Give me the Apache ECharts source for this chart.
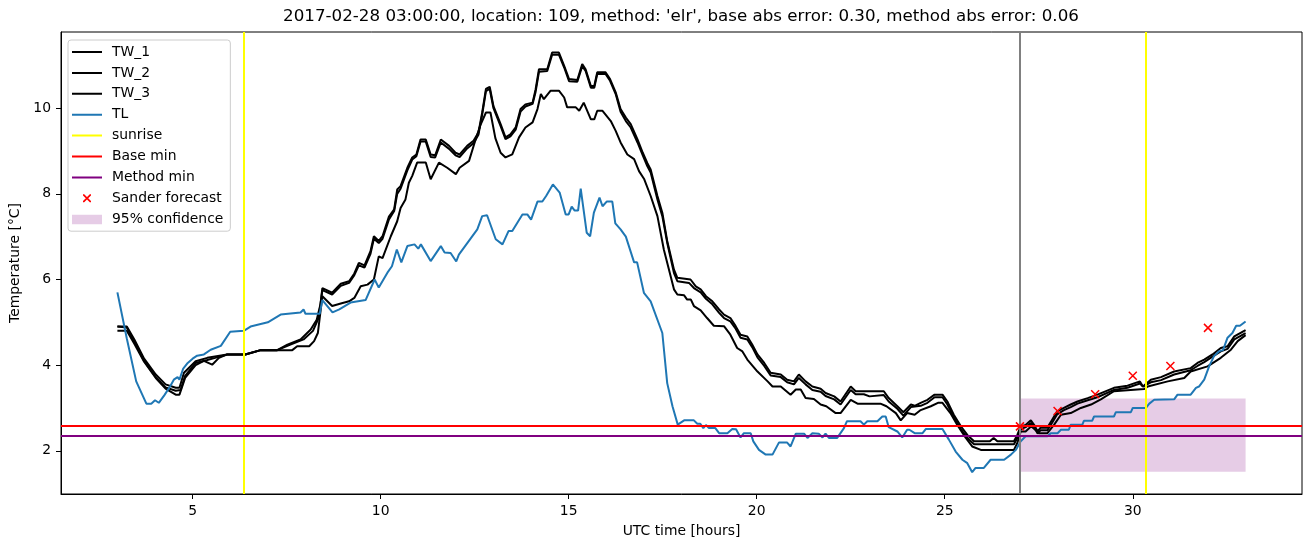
<!DOCTYPE html>
<html>
<head>
<meta charset="utf-8">
<script src="https://cdn.jsdelivr.net/npm/echarts@6/dist/echarts.min.js"></script>
<style>
html,body{margin:0;padding:0;background:#fff;}
#chart{width:1310px;height:547px;}
</style>
</head>
<body>
<div id="chart"></div>
<script>
const titleText = "2017-02-28 03:00:00, location: 109, method: 'elr', base abs error: 0.30, method abs error: 0.06";
const xTicks = [5, 10, 15, 20, 25, 30];
const yTicks = [2, 4, 6, 8, 10];

const TW_1 = [[3.0,4.9],[3.25,4.9],[3.45,4.6],[3.71,4.15],[4.02,3.78],[4.28,3.55],[4.55,3.47],[4.65,3.47],[4.77,3.82],[5.08,4.09],[5.39,4.17],[5.92,4.25],[6.4,4.25],[6.81,4.35],[7.25,4.35],[7.52,4.48],[7.87,4.6],[8.14,4.83],[8.3,5.06],[8.4,5.42],[8.45,5.8],[8.71,5.69],[8.94,5.9],[9.16,5.96],[9.3,6.14],[9.42,6.39],[9.57,6.33],[9.73,6.66],[9.82,7.01],[9.95,6.9],[10.05,7.01],[10.22,7.47],[10.36,7.64],[10.44,8.1],[10.53,8.18],[10.71,8.61],[10.84,8.85],[10.95,8.92],[11.06,9.27],[11.2,9.27],[11.33,8.92],[11.45,8.9],[11.6,9.27],[11.82,9.12],[11.99,8.96],[12.1,8.92],[12.3,9.12],[12.47,9.24],[12.6,9.43],[12.7,9.9],[12.8,10.45],[12.9,10.5],[13.0,10.05],[13.19,9.63],[13.32,9.32],[13.45,9.39],[13.59,9.55],[13.72,9.98],[13.85,10.09],[14.04,10.13],[14.12,10.44],[14.21,10.91],[14.43,10.91],[14.56,11.3],[14.74,11.3],[14.88,10.99],[15.01,10.68],[15.23,10.66],[15.36,11.03],[15.45,10.91],[15.59,10.52],[15.68,10.52],[15.76,10.84],[15.98,10.84],[16.1,10.68],[16.25,10.37],[16.38,9.98],[16.52,9.78],[16.65,9.63],[16.83,9.27],[16.97,8.96],[17.09,8.72],[17.18,8.57],[17.36,7.95],[17.49,7.56],[17.62,6.9],[17.8,6.23],[17.89,6.04],[18.24,6.0],[18.38,5.84],[18.51,5.77],[18.65,5.61],[18.82,5.49],[19.0,5.3],[19.13,5.18],[19.3,5.1],[19.44,4.91],[19.57,4.71],[19.75,4.67],[19.88,4.48],[20.02,4.25],[20.2,4.05],[20.37,3.82],[20.64,3.78],[20.81,3.66],[20.99,3.62],[21.12,3.78],[21.3,3.62],[21.48,3.5],[21.7,3.45],[21.83,3.35],[22.06,3.27],[22.23,3.15],[22.5,3.5],[22.63,3.39],[22.85,3.39],[23.0,3.39],[23.38,3.39],[23.51,3.23],[23.74,3.04],[23.9,2.9],[24.1,3.08],[24.2,3.05],[24.36,3.12],[24.54,3.19],[24.73,3.31],[24.94,3.31],[25.07,3.15],[25.24,2.84],[25.43,2.57],[25.6,2.37],[25.78,2.22],[26.2,2.22],[26.3,2.3],[26.4,2.22],[26.84,2.22],[26.93,2.37],[27.02,2.57],[27.15,2.6],[27.29,2.71],[27.38,2.6],[27.47,2.45],[27.55,2.54],[27.73,2.54],[27.86,2.73],[27.99,2.92],[28.17,3.0],[28.35,3.08],[28.53,3.15],[28.8,3.23],[29.06,3.31],[29.5,3.47],[29.86,3.52],[30.19,3.62],[30.27,3.5],[30.48,3.66],[30.75,3.72],[31.1,3.85],[31.54,3.93],[31.72,4.05],[31.9,4.13],[32.12,4.25],[32.34,4.4],[32.52,4.44],[32.7,4.67],[33.0,4.82]];

const TW_2 = [[3.0,4.9],[3.25,4.88],[3.45,4.55],[3.71,4.1],[4.02,3.72],[4.28,3.48],[4.55,3.4],[4.68,3.42],[4.8,3.75],[5.08,4.05],[5.39,4.12],[5.6,4.17],[5.92,4.25],[6.4,4.25],[6.81,4.35],[7.25,4.35],[7.6,4.48],[7.95,4.6],[8.2,4.8],[8.35,5.1],[8.45,5.75],[8.71,5.65],[8.94,5.85],[9.16,5.92],[9.3,6.1],[9.42,6.33],[9.57,6.28],[9.73,6.6],[9.82,6.95],[9.95,6.85],[10.05,6.95],[10.22,7.4],[10.36,7.6],[10.44,8.0],[10.53,8.12],[10.71,8.55],[10.84,8.8],[10.95,8.88],[11.06,9.22],[11.2,9.22],[11.33,8.86],[11.45,8.85],[11.6,9.2],[11.82,9.05],[11.99,8.9],[12.1,8.86],[12.3,9.06],[12.47,9.18],[12.6,9.38],[12.7,9.85],[12.8,10.4],[12.9,10.45],[13.0,10.0],[13.19,9.58],[13.32,9.28],[13.45,9.34],[13.59,9.5],[13.72,9.92],[13.85,10.04],[14.04,10.1],[14.12,10.38],[14.21,10.85],[14.43,10.87],[14.56,11.25],[14.74,11.25],[14.88,10.95],[15.01,10.63],[15.23,10.62],[15.36,10.98],[15.45,10.87],[15.59,10.48],[15.68,10.48],[15.76,10.8],[15.98,10.8],[16.1,10.64],[16.25,10.33],[16.38,9.92],[16.52,9.7],[16.65,9.55],[16.83,9.2],[16.97,8.9],[17.09,8.65],[17.18,8.5],[17.36,7.87],[17.49,7.48],[17.62,6.86],[17.8,6.15],[17.89,5.96],[18.2,5.92],[18.33,5.8],[18.51,5.7],[18.65,5.55],[18.82,5.42],[19.0,5.22],[19.13,5.1],[19.3,5.02],[19.44,4.85],[19.57,4.64],[19.75,4.6],[19.88,4.42],[20.02,4.18],[20.2,3.98],[20.37,3.76],[20.64,3.72],[20.81,3.6],[20.99,3.55],[21.12,3.7],[21.3,3.55],[21.48,3.42],[21.7,3.38],[21.83,3.28],[22.06,3.2],[22.23,3.08],[22.5,3.42],[22.63,3.32],[22.85,3.32],[23.0,3.27],[23.38,3.3],[23.51,3.15],[23.74,2.98],[23.9,2.82],[24.1,3.02],[24.36,3.05],[24.54,3.12],[24.73,3.25],[24.94,3.25],[25.07,3.08],[25.24,2.78],[25.43,2.5],[25.6,2.3],[25.78,2.15],[26.84,2.15],[26.93,2.3],[27.02,2.5],[27.15,2.55],[27.29,2.65],[27.38,2.55],[27.47,2.4],[27.55,2.48],[27.73,2.48],[27.86,2.66],[27.99,2.85],[28.17,2.95],[28.35,3.02],[28.53,3.1],[28.8,3.18],[29.06,3.25],[29.5,3.42],[29.86,3.47],[30.19,3.57],[30.27,3.5],[30.48,3.6],[30.75,3.65],[31.1,3.78],[31.54,3.88],[31.72,3.98],[31.9,4.07],[32.12,4.2],[32.34,4.32],[32.52,4.38],[32.7,4.6],[33.0,4.75]];

const TW_3 = [[3.0,4.8],[3.25,4.8],[3.45,4.5],[3.71,4.08],[4.02,3.7],[4.28,3.45],[4.55,3.31],[4.65,3.31],[4.8,3.7],[5.08,4.0],[5.3,4.1],[5.52,4.01],[5.7,4.17],[5.92,4.25],[6.4,4.25],[6.81,4.35],[7.65,4.35],[7.78,4.44],[8.1,4.44],[8.23,4.56],[8.33,4.75],[8.45,5.61],[8.71,5.38],[8.94,5.44],[9.16,5.49],[9.3,5.57],[9.47,5.84],[9.65,5.88],[9.82,6.0],[9.95,6.54],[10.05,6.5],[10.27,7.01],[10.44,7.36],[10.53,7.67],[10.66,7.87],[10.75,8.26],[10.84,8.42],[10.97,8.73],[11.2,8.73],[11.33,8.34],[11.55,8.73],[11.77,8.61],[12.0,8.46],[12.1,8.61],[12.35,8.77],[12.5,9.2],[12.65,9.6],[12.8,9.9],[12.92,9.9],[13.05,9.3],[13.19,8.96],[13.32,8.85],[13.5,8.92],[13.68,9.32],[13.85,9.55],[14.04,9.67],[14.17,9.98],[14.26,10.33],[14.34,10.21],[14.52,10.41],[14.74,10.41],[14.88,10.25],[14.96,10.02],[15.19,10.02],[15.28,9.94],[15.4,10.13],[15.59,9.74],[15.68,9.74],[15.76,9.94],[15.9,9.94],[16.12,9.7],[16.25,9.47],[16.38,9.2],[16.56,8.92],[16.74,8.81],[16.87,8.53],[17.01,8.34],[17.18,7.95],[17.36,7.48],[17.53,6.7],[17.8,5.77],[17.89,5.65],[18.07,5.63],[18.15,5.53],[18.25,5.53],[18.33,5.38],[18.51,5.28],[18.68,5.1],[18.86,4.92],[19.13,4.91],[19.3,4.71],[19.48,4.4],[19.62,4.32],[19.75,4.13],[20.02,3.85],[20.29,3.62],[20.42,3.5],[20.64,3.5],[20.9,3.31],[21.04,3.43],[21.17,3.43],[21.3,3.23],[21.52,3.21],[21.7,3.08],[21.85,3.04],[22.1,2.88],[22.23,2.88],[22.5,3.19],[22.68,3.1],[23.29,3.1],[23.45,3.04],[23.7,2.88],[23.83,2.71],[24.0,2.88],[24.2,2.84],[24.36,2.95],[24.63,3.04],[24.82,3.12],[24.94,3.12],[25.15,2.88],[25.33,2.61],[25.56,2.3],[25.73,2.1],[25.96,2.02],[26.84,2.02],[26.93,2.18],[27.02,2.45],[27.15,2.45],[27.3,2.57],[27.51,2.41],[27.73,2.41],[27.91,2.61],[28.09,2.84],[28.35,2.88],[28.62,3.0],[28.89,3.08],[29.15,3.2],[29.5,3.39],[30.3,3.44],[30.4,3.5],[30.93,3.62],[31.37,3.7],[31.54,3.85],[31.99,3.97],[32.34,4.17],[32.61,4.36],[32.79,4.56],[33.0,4.7]];

const TL = [[3.0,5.70],[3.25,4.62],[3.5,3.62],[3.77,3.10],[3.9,3.10],[4.0,3.18],[4.1,3.12],[4.25,3.30],[4.4,3.5],[4.5,3.66],[4.6,3.72],[4.65,3.66],[4.75,3.92],[4.87,4.05],[5.0,4.15],[5.12,4.22],[5.3,4.25],[5.48,4.36],[5.75,4.45],[6.0,4.78],[6.36,4.80],[6.54,4.90],[7.0,5.0],[7.34,5.18],[7.87,5.23],[7.95,5.3],[8.0,5.2],[8.38,5.2],[8.45,5.52],[8.72,5.23],[8.9,5.3],[9.2,5.46],[9.6,5.52],[9.84,6.0],[9.95,5.81],[10.18,6.16],[10.3,6.31],[10.43,6.7],[10.55,6.4],[10.71,6.78],[10.9,6.82],[11.0,6.72],[11.07,6.82],[11.33,6.43],[11.6,6.78],[11.7,6.63],[11.86,6.62],[12.01,6.42],[12.08,6.58],[12.57,7.17],[12.7,7.48],[12.83,7.5],[13.06,6.94],[13.24,6.82],[13.4,7.13],[13.5,7.13],[13.77,7.52],[13.9,7.52],[14.0,7.4],[14.17,7.82],[14.3,7.82],[14.4,7.95],[14.58,8.22],[14.76,8.03],[14.92,7.52],[15.0,7.52],[15.08,7.7],[15.16,7.61],[15.25,7.61],[15.32,8.12],[15.48,7.09],[15.57,7.01],[15.67,7.56],[15.82,7.91],[15.9,7.71],[16.01,7.82],[16.16,7.82],[16.24,7.31],[16.38,7.17],[16.52,7.0],[16.74,6.4],[16.82,6.4],[17.0,5.69],[17.18,5.49],[17.49,4.75],[17.62,3.58],[17.76,3.04],[17.9,2.61],[18.07,2.71],[18.33,2.71],[18.42,2.63],[18.5,2.63],[18.58,2.53],[18.65,2.6],[18.73,2.53],[18.9,2.53],[19.0,2.41],[19.22,2.41],[19.35,2.51],[19.45,2.5],[19.57,2.31],[19.66,2.41],[19.84,2.41],[19.91,2.22],[20.06,2.02],[20.24,1.91],[20.42,1.91],[20.59,2.19],[20.81,2.19],[20.9,2.1],[21.04,2.4],[21.26,2.4],[21.35,2.3],[21.48,2.41],[21.65,2.4],[21.75,2.31],[21.83,2.4],[21.92,2.3],[22.14,2.3],[22.32,2.53],[22.4,2.69],[22.76,2.69],[22.85,2.61],[22.94,2.69],[23.21,2.69],[23.34,2.8],[23.43,2.8],[23.51,2.55],[23.74,2.45],[23.87,2.31],[24.0,2.49],[24.06,2.49],[24.2,2.41],[24.41,2.41],[24.5,2.51],[24.94,2.51],[25.11,2.26],[25.29,1.98],[25.47,1.79],[25.6,1.71],[25.73,1.5],[25.82,1.6],[26.04,1.6],[26.22,1.79],[26.58,1.79],[26.76,1.91],[26.89,2.02],[27.02,2.22],[27.15,2.34],[27.73,2.34],[27.82,2.41],[28.0,2.41],[28.09,2.49],[28.3,2.49],[28.35,2.61],[28.66,2.61],[28.7,2.7],[28.92,2.7],[28.97,2.8],[29.5,2.8],[29.55,2.9],[29.95,2.9],[30.0,3.0],[30.35,3.0],[30.44,3.1],[30.57,3.19],[31.1,3.2],[31.19,3.31],[31.54,3.31],[31.68,3.47],[31.76,3.5],[31.9,3.66],[32.03,3.97],[32.16,4.21],[32.29,4.32],[32.4,4.35],[32.52,4.64],[32.65,4.75],[32.75,4.92],[32.85,4.92],[33.0,5.02]];

const sunriseHours = [6.36, 30.35];
const forecastStartHour = 27;
const baseMin = 2.585;
const methodMin = 2.36;
const sanderHours = [27, 28, 29, 30, 31, 32];
const sanderValues = [2.57, 2.93, 3.32, 3.75, 3.98, 4.87];
const confStart = 27, confEnd = 33, confLow = 1.51, confHigh = 3.22;

const FONT = 'DejaVu Sans';
const pad = 'M0,0L0.01,0L0,0.01ZM35,14L34.99,14L35,13.99Z';
const lineIcon = 'path://' + pad + 'M0,6H30V8H0Z';
const crossIcon = 'path://' + pad + 'M11,3L12.2,3L19,9.8L19,11L17.8,11L11,4.2ZM19,3L19,4.2L12.2,11L11,11L11,9.8L17.8,3Z';
const rectIcon = 'path://' + pad + 'M0,2.5H30V12H0Z';

const chart = echarts.init(document.getElementById('chart'), null, {renderer: 'canvas'});

function ml(color, data) {
  return {
    silent: true, symbol: ['none', 'none'], label: {show: false},
    lineStyle: {color: color, width: 2, type: 'solid'},
    emphasis: {disabled: true}, animation: false,
    data: data
  };
}

const option = {
  animation: false,
  backgroundColor: '#ffffff',
  title: {
    text: titleText, left: 681, top: 8, padding: 0, textAlign: 'center',
    textStyle: {fontFamily: FONT, fontSize: 16.7, fontWeight: 'normal', color: '#000'}
  },
  grid: {left: 61, top: 32, right: 8, bottom: 53, show: true, borderColor: '#000', borderWidth: 1, backgroundColor: 'transparent'},
  legend: {
    orient: 'vertical', left: 68, top: 40,
    padding: [5, 7, 5, 4],
    itemWidth: 35, itemHeight: 14, itemGap: 6.9,
    backgroundColor: 'rgba(255,255,255,0.8)', borderColor: '#cccccc', borderWidth: 1, borderRadius: 3,
    textStyle: {fontFamily: FONT, fontSize: 13.9, color: '#000', lineHeight: 14, padding: 0},
    itemStyle: {borderWidth: 0},
    selectedMode: false,
    data: [
      {name: 'TW_1', icon: lineIcon},
      {name: 'TW_2', icon: lineIcon},
      {name: 'TW_3', icon: lineIcon},
      {name: 'TL', icon: lineIcon},
      {name: 'sunrise', icon: lineIcon},
      {name: 'Base min', icon: lineIcon},
      {name: 'Method min', icon: lineIcon},
      {name: 'Sander forecast', icon: crossIcon, itemStyle: {color: '#ff0000', borderWidth: 0}},
      {name: '95% confidence', icon: rectIcon, itemStyle: {color: 'rgba(128,0,128,0.2)', borderWidth: 0}}
    ]
  },
  xAxis: {
    type: 'value', min: 1.5, max: 34.5,
    name: 'UTC time [hours]', nameLocation: 'middle', nameGap: 30,
    nameTextStyle: {fontFamily: FONT, fontSize: 13.9, color: '#000'},
    axisLine: {show: true, onZero: false, lineStyle: {color: '#000', width: 1}},
    axisTick: {show: true, length: 5, lineStyle: {color: '#000', width: 1}, customValues: xTicks},
    axisLabel: {show: true, margin: 10, fontFamily: FONT, fontSize: 13.9, color: '#000', customValues: xTicks},
    splitLine: {show: false}
  },
  yAxis: {
    type: 'value', min: 0.99, max: 11.78,
    name: 'Temperature [°C]', nameLocation: 'middle', nameGap: 34,
    nameTextStyle: {fontFamily: FONT, fontSize: 13.9, color: '#000'},
    axisLine: {show: true, onZero: false, lineStyle: {color: '#000', width: 1}},
    axisTick: {show: true, length: 5, lineStyle: {color: '#000', width: 1}, customValues: yTicks},
    axisLabel: {show: true, margin: 10, fontFamily: FONT, fontSize: 13.9, color: '#000', customValues: yTicks},
    splitLine: {show: false}
  },
  series: [
    {name: '95% confidence', type: 'line', data: [], color: 'rgba(128,0,128,0.2)', z: 1,
      markArea: {silent: true, itemStyle: {color: 'rgba(128,0,128,0.2)'}, data: [[{xAxis: confStart, yAxis: confLow}, {xAxis: confEnd, yAxis: confHigh}]]}},
    {name: 'TW_1', type: 'line', data: TW_1, color: '#000', showSymbol: false, symbol: 'none', lineStyle: {color: '#000', width: 2}, z: 3},
    {name: 'TW_2', type: 'line', data: TW_2, color: '#000', showSymbol: false, symbol: 'none', lineStyle: {color: '#000', width: 2}, z: 3},
    {name: 'TW_3', type: 'line', data: TW_3, color: '#000', showSymbol: false, symbol: 'none', lineStyle: {color: '#000', width: 2}, z: 3},
    {name: 'TL', type: 'line', data: TL, color: '#1f77b4', showSymbol: false, symbol: 'none', lineStyle: {color: '#1f77b4', width: 2}, z: 4},
    {name: 'sunrise', type: 'line', data: [], color: '#ffff00', z: 5,
      markLine: ml('#ffff00', sunriseHours.map(h => ({xAxis: h})))},
    {name: 'forecast start', type: 'line', data: [], color: '#808080', z: 5,
      markLine: ml('#808080', [{xAxis: forecastStartHour}])},
    {name: 'Base min', type: 'line', data: [], color: '#ff0000', z: 5,
      markLine: ml('#ff0000', [{yAxis: baseMin}])},
    {name: 'Method min', type: 'line', data: [], color: '#800080', z: 5,
      markLine: ml('#800080', [{yAxis: methodMin}])},
    {name: 'Sander forecast', type: 'scatter', z: 6,
      data: sanderHours.map((h, i) => [h, sanderValues[i]]),
      symbol: 'path://M0,0L10,10M10,0L0,10', symbolSize: 8,
      itemStyle: {color: 'rgba(0,0,0,0)', borderColor: '#ff0000', borderWidth: 1.5, opacity: 1}}
  ]
};
chart.setOption(option);
</script>
</body>
</html>
